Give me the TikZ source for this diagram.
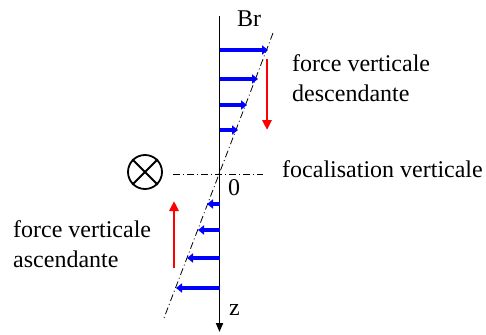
\documentclass[tikz,border=0pt]{standalone}
\usepackage{fontspec}
\setmainfont{Liberation Serif}
\usetikzlibrary{arrows.meta}
\begin{document}
\begin{tikzpicture}[x=1pt,y=-1pt,
  lbl/.style={inner sep=0pt,anchor=base west,font=\fontsize{24}{30}\selectfont},
  axisline/.style={line width=1.8pt,-{Triangle[length=9pt,width=7pt]}},
  bluearrow/.style={draw=blue,line width=3.5pt,-{Triangle[length=6pt,width=9pt]}},
  redarrow/.style={draw=red,line width=2.6pt,-{Triangle[length=10pt,width=9pt]}},
  dashdot/.style={line width=0.8pt,dash pattern=on 7pt off 3pt on 1pt off 3pt}]
\useasboundingbox (0,0) rectangle (486,334);
% axis
\coordinate (top) at (219.5,16);
\coordinate (bot) at (219.5,332);
\draw[axisline] (top) -- (bot);
% dash-dot lines
\coordinate (sl1) at (273,33);
\coordinate (sl2) at (164,318);
\draw[dashdot] (sl1) -- (sl2);
\coordinate (h1) at (173,174);
\coordinate (h2) at (263,174);
\draw[dashdot] (h1) -- (h2);
% upper blue arrows
\foreach \n/\y/\x in {a/50/268,b/79/258,c/105/247,d/130/238}{
  \coordinate (u\n s) at (219.5,\y);
  \coordinate (u\n e) at (\x,\y);
  \draw[bluearrow] (u\n s) -- (u\n e);
}
% lower blue arrows
\foreach \n/\y/\x in {a/204/207,b/230/198,c/258/187,d/288/176}{
  \coordinate (l\n s) at (219.5,\y);
  \coordinate (l\n e) at (\x,\y);
  \draw[bluearrow] (l\n s) -- (l\n e);
}
% red arrows
\coordinate (rd1) at (267,59);
\coordinate (rd2) at (267,130);
\draw[redarrow] (rd1) -- (rd2);
\coordinate (ru1) at (174,268);
\coordinate (ru2) at (174,201);
\draw[redarrow] (ru1) -- (ru2);
% otimes
\node[draw,circle,line width=1.8pt,minimum size=34pt,inner sep=0pt] (ot) at (145,172) {};
\draw[line width=1.8pt] (ot.north west) -- (ot.south east);
\draw[line width=1.8pt] (ot.north east) -- (ot.south west);
% labels
\node[lbl] (br) at (237,27) {Br};
\node[lbl] (fv1) at (292,72) {force verticale};
\node[lbl] (fv2) at (292,102) {descendante};
\node[lbl] (foc) at (282,177) {focalisation verticale};
\node[lbl] (zero) at (228,195) {0};
\node[lbl] (fa1) at (13,237) {force verticale};
\node[lbl] (fa2) at (13,267) {ascendante};
\node[lbl] (zz) at (229,315) {z};
\end{tikzpicture}
\end{document}
